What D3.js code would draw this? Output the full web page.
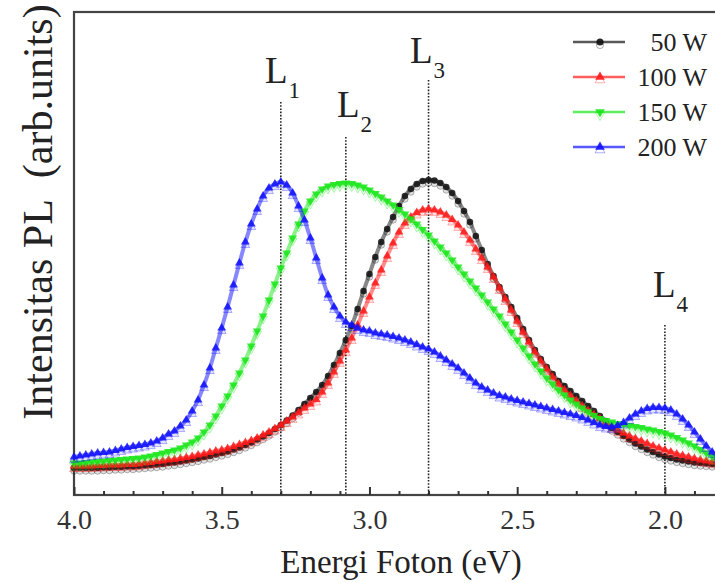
<!DOCTYPE html>
<html><head><meta charset="utf-8">
<script src="https://cdn.jsdelivr.net/npm/d3@7"></script>
<style>html,body{margin:0;padding:0;background:#fff;overflow:hidden} text{font-family:"Liberation Serif","Times New Roman",serif}</style>
</head><body><svg id="c" width="715" height="583"></svg>
<script>
// Photon energy grid (eV)
const energy = [4.00,3.98,3.96,3.94,3.92,3.90,3.88,3.86,3.84,3.82,
3.80,3.78,3.76,3.74,3.72,3.70,3.68,3.66,3.64,3.62,
3.60,3.58,3.56,3.54,3.52,3.50,3.48,3.46,3.44,3.42,
3.40,3.38,3.36,3.34,3.32,3.30,3.28,3.26,3.24,3.22,
3.20,3.18,3.16,3.14,3.12,3.10,3.08,3.06,3.04,3.02,
3.00,2.98,2.96,2.94,2.92,2.90,2.88,2.86,2.84,2.82,
2.80,2.78,2.76,2.74,2.72,2.70,2.68,2.66,2.64,2.62,
2.60,2.58,2.56,2.54,2.52,2.50,2.48,2.46,2.44,2.42,
2.40,2.38,2.36,2.34,2.32,2.30,2.28,2.26,2.24,2.22,
2.20,2.18,2.16,2.14,2.12,2.10,2.08,2.06,2.04,2.02,
2.00,1.98,1.96,1.94,1.92,1.90,1.88,1.86,1.84,1.82,1.80];

// PL intensity (arb. units)
const pl50 = [27,27,27,27,27,27.5,27.5,28,28,28.5,
28.5,29,29.5,30,30.5,31,32,32.5,33.5,34.5,
35.5,36.5,38,39,40.5,42,43.5,45.5,47.5,50,
52.5,55.5,58.5,62,66,70,74.5,79.5,85,91,
97,103,110,119,130,142,155,169,186,204,
221,238,253,266,278,289,299,306,311,314,
315,314.5,312,308,302,294,284,273,259,245,
231,219,208,198,188,177,166,155,145,136,
128,121,114,109,104,99,94,89,84,79,
74,67,63,59,55.5,51.5,48.5,45.5,43,40.5,
38.5,37,35.5,34.5,33.5,32.5,32,31.5,31,31,30.5];

const pl100 = [29,29,29,29,29.5,29.5,30,30,30,30.5,
30.5,31,32,32.5,33.5,34,35,35.5,36.5,37.5,
38.5,40,41,42.5,44,45,46.5,48.5,50.5,52.5,
54.5,57,60,63,66.5,70,74,78,82.5,87,
91,95.5,103,112,123,134,145,157,170,184,
198,212,225,239,252,263,272,278,282.5,285,
286,285,283,280,275.5,270,263,255,246,237,
228,218,207,196,185,174,163,153,143,134,
126,118,111,105,99.5,94.5,89,84.5,80.5,76.5,
72,68.5,65,62,59,56.5,54,51.5,49,47,
45,43,41,39.5,38,36.5,35,34,33,32.5,32];

const pl150 = [32,32,32.5,33,33.5,34,34.5,35,35.5,36,
36.5,37,38,39,40.5,42,43.5,45,47,50,
53,57,63,70,79,89,99,110,122,135,
149,164,179,195,211,227,242,257,271,284,
294,301,306,309,310.5,311.5,312,311.5,310,308,
305,301.5,298,294,290,285.5,281,276,271,265.5,
260,254,248,242,235,228,221,214,207,200,
193,186,179,171,163,155,147,139,131,124,
117,111,105,100,95,91,87,83,79.5,76.5,
74.5,73,71.5,70.5,69.5,68.5,67.5,66,65,63.5,
62,60,57.5,55,52,49,45.5,42,38.5,35,32];

const pl200 = [38,39,40,41,42,42.5,43,44.5,46,47.5,
48.5,49.5,50.5,52,54,57,61,64,69,75,
84,95,110,127,147,167,188,210,232,253,
271,286,299,307,311,313,310,302,289,275,
257,237,217,200,188,179,173,170,167,165,
164,162,161,160,158.5,157,155,153,150.5,148,
146,143,139,135,131,127,122,117,112,108,
105,102,99.5,98,96,94.5,93,91.5,90,88.5,
87,85.5,84,82.5,81,79.5,77.5,75,72.5,70,
68.5,68,69.5,72.5,77,81,84,86.5,87.5,87.5,
87,85,81,76,70,63,56,49,43,38,34];

const seriesNames = ["50 W","100 W","150 W","200 W"];
const seriesColors = ["#111111","#ff1a1a","#19e619","#1010ff"];
const seriesSymbols = [d3.symbolCircle, d3.symbolTriangle, d3.symbolTriangle, d3.symbolTriangle];
const seriesRot = [0, 0, 180, 0];
const seriesValues = [pl50, pl100, pl150, pl200];

const xTicksMajor = [4.0, 3.5, 3.0, 2.5, 2.0];
const xTicksMinor = [3.9,3.8,3.7,3.6,3.4,3.3,3.2,3.1,2.9,2.8,2.7,2.6,2.4,2.3,2.2,2.1,1.9];

const peakNames = ["1","2","3","4"];
const peakEnergy = [3.30, 3.08, 2.80, 2.00];

const xTitle = "Energi Foton (eV)";
const yTitle = "Intensitas PL\u00A0\u00A0(arb.units)";

// ---------- drawing ----------
const svg = d3.select("#c");
const serif = "Liberation Serif";
const L = 74, R = 724, T = 12, B = 495;
const x = d3.scaleLinear().domain([4.0, 1.8]).range([L, R]);
const y = d3.scaleLinear().domain([0, 483]).range([B, T]);

// Frame
svg.append("rect").attr("x", L).attr("y", T).attr("width", R - L).attr("height", B - T)
  .attr("fill", "none").attr("stroke", "#444").attr("stroke-width", 2.2);

// Axes
const axMinor = d3.axisBottom(x).tickValues(xTicksMinor).tickSize(-4).tickFormat("");
svg.append("g").attr("transform", `translate(0,${B})`).call(axMinor)
  .call(g => g.select(".domain").remove())
  .call(g => g.selectAll("line").attr("stroke", "#333").attr("stroke-width", 2));
const axMajor = d3.axisBottom(x).tickValues(xTicksMajor).tickSize(-8).tickPadding(14)
  .tickFormat(d3.format(".1f"));
svg.append("g").attr("transform", `translate(0,${B})`).call(axMajor)
  .attr("font-family", serif)
  .call(g => g.select(".domain").remove())
  .call(g => g.selectAll("line").attr("stroke", "#333").attr("stroke-width", 2))
  .call(g => g.selectAll("text").attr("font-family", serif).attr("font-size", 28).attr("fill", "#333"));

// Peak marker lines
const peakTop = [102, 137, 80, 325];
const labelPos = [[265, 83], [337, 117], [410, 63], [653, 297]];
svg.append("g").selectAll("line").data(peakEnergy).join("line")
  .attr("x1", d => x(d)).attr("x2", d => x(d))
  .attr("y1", (d, i) => peakTop[i]).attr("y2", B)
  .attr("stroke", "#222").attr("stroke-width", 1.6).attr("stroke-dasharray", "1.6,1.6");

// Series
const line = d3.line().x((d, i) => x(energy[i])).y(d => y(d)).curve(d3.curveMonotoneX);
seriesValues.forEach((vals, s) => {
  const g = svg.append("g");
  const col = seriesColors[s];
  g.append("path").datum(vals).attr("d", line).attr("fill", "none")
    .attr("stroke", col).attr("stroke-opacity", 0.5).attr("stroke-width", 4);
  const sym = d3.symbol().type(seriesSymbols[s]).size(34);
  g.selectAll("path.echo").data(vals).join("path").attr("class", "echo")
    .attr("d", sym)
    .attr("transform", (d, i) => `translate(${x(energy[i])},${y(d) + 3}) rotate(${seriesRot[s]})`)
    .attr("fill", col).attr("fill-opacity", 0.12).attr("stroke", col).attr("stroke-opacity", 0.3).attr("stroke-width", 1);
  g.selectAll("path.mk").data(vals).join("path").attr("class", "mk")
    .attr("d", sym)
    .attr("transform", (d, i) => `translate(${x(energy[i])},${y(d)}) rotate(${seriesRot[s]})`)
    .attr("fill", col).attr("fill-opacity", 0.85);
});

// Peak labels
peakNames.forEach((n, i) => {
  const t = svg.append("text").attr("x", labelPos[i][0]).attr("y", labelPos[i][1])
    .attr("font-family", serif).attr("font-size", 37).attr("fill", "#222");
  t.append("tspan").text("L");
  t.append("tspan").attr("dy", 15).attr("dx", 1).attr("font-size", 23).text(n);
});

// Legend
const lg = svg.append("g");
seriesNames.forEach((n, i) => {
  const cy = 42 + i * 35;
  const col = seriesColors[i];
  lg.append("line").attr("x1", 573).attr("x2", 625).attr("y1", cy).attr("y2", cy)
    .attr("stroke", col).attr("stroke-width", 2.5).attr("stroke-opacity", 0.7);
  const sym = d3.symbol().type(seriesSymbols[i]).size(40);
  lg.append("path").attr("d", sym).attr("transform", `translate(600,${cy + 3}) rotate(${seriesRot[i]})`)
    .attr("fill", "none").attr("stroke", col).attr("stroke-opacity", 0.35);
  lg.append("path").attr("d", sym).attr("transform", `translate(600,${cy}) rotate(${seriesRot[i]})`)
    .attr("fill", col).attr("fill-opacity", 0.9);
  lg.append("text").attr("x", 707).attr("y", cy + 9).attr("text-anchor", "end")
    .attr("font-family", serif).attr("font-size", 26).attr("fill", "#222").text(n);
});

// Titles
svg.append("text").attr("x", 401).attr("y", 573).attr("text-anchor", "middle")
  .attr("font-family", serif).attr("font-size", 33).attr("fill", "#222").text(xTitle);
svg.append("text").attr("transform", "translate(52,212) rotate(-90)").attr("text-anchor", "middle")
  .attr("font-family", serif).attr("font-size", 42).attr("fill", "#222").text(yTitle);
</script>
</body></html>
